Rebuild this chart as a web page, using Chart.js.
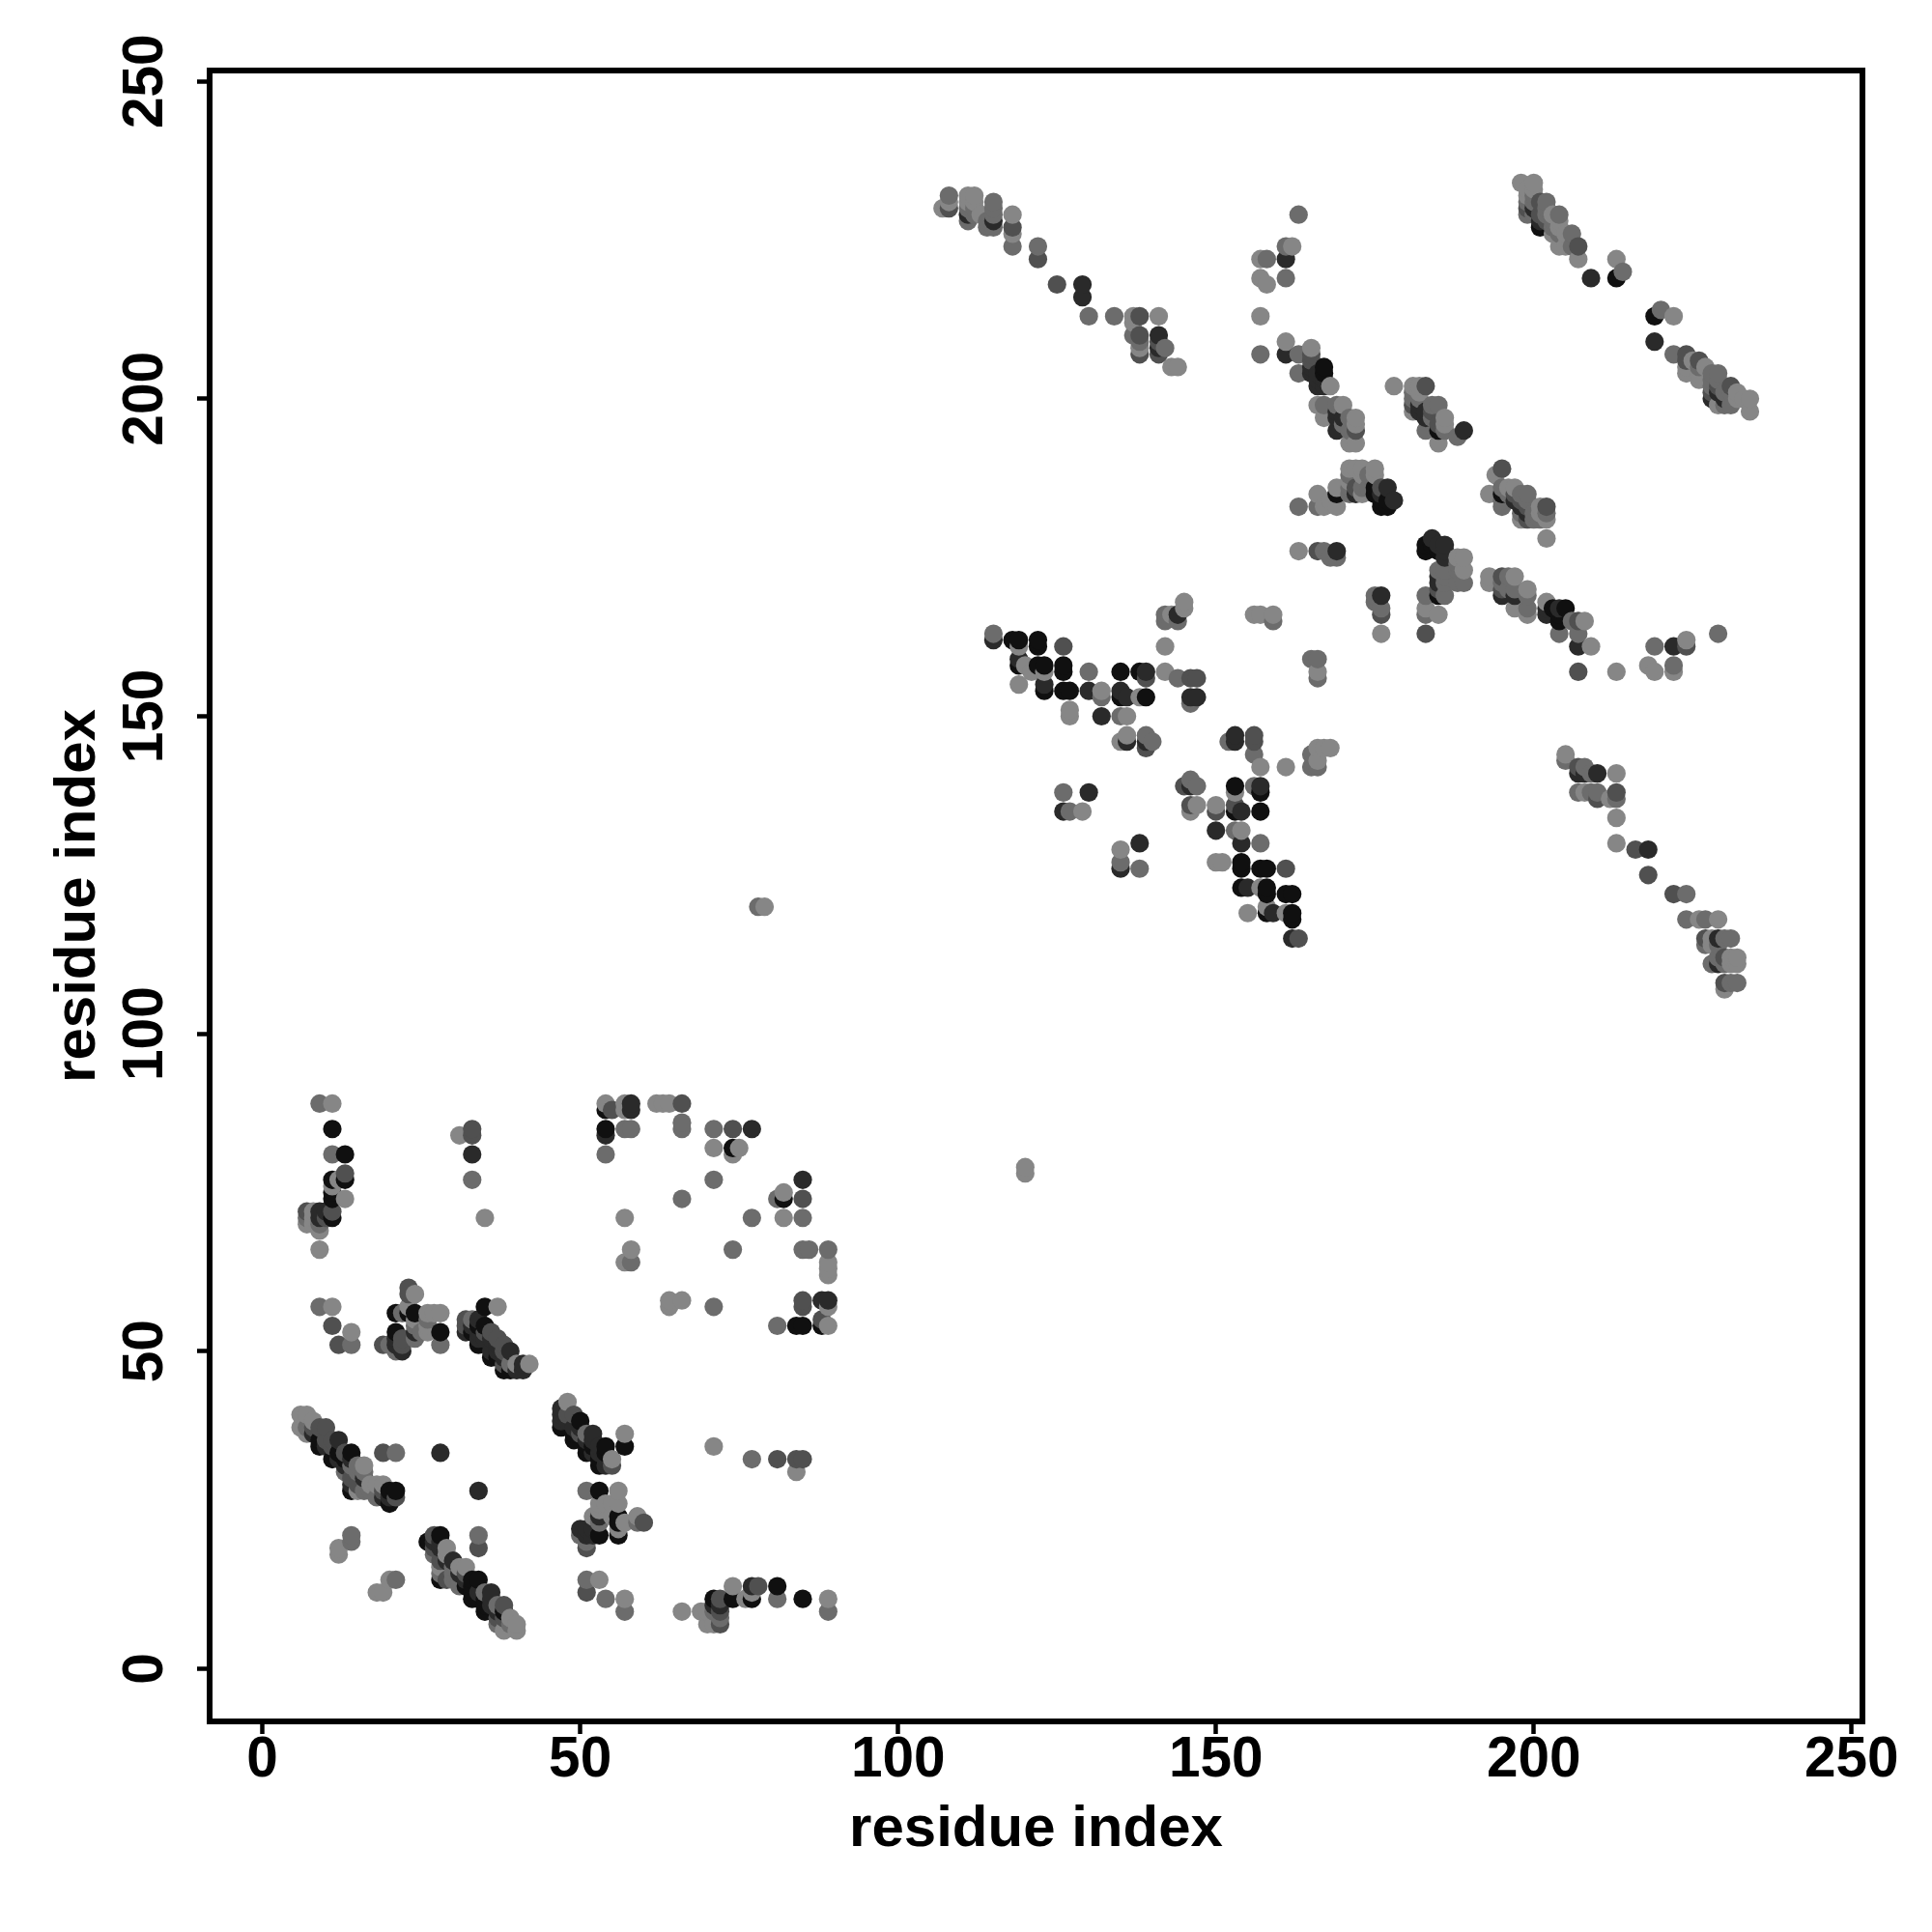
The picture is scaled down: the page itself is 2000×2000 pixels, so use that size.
<!DOCTYPE html>
<html>
<head>
<meta charset="utf-8">
<title>residue contact map</title>
<script src="https://cdn.jsdelivr.net/npm/chart.js@4"></script>
<style>
    body { margin: 0; background: #fff; }
    canvas { display: block; }
</style>
</head>
<body>
<canvas id="myChart" width="2000" height="2000"></canvas>
<script>
// every contact is [residue i, residue j, level], level 0 is the darkest
const tickValues = [0, 50, 100, 150, 200, 250]
const levelGreys = [16, 42, 80, 108, 134]

const lowerDiagonalA = [[6,40,4],[7,40,4],[6,38,4],[7,37,4],[7,38,3],[8,39,4],[8,38,2],[9,38,2],[10,38,2],[8,37,1],[9,36,0],[9,35,0],[10,36,2],[11,36,2],[12,36,1],[10,35,1],[11,35,2],[11,33,0],[12,34,0],[13,34,2],[14,34,0],[12,33,1],[13,33,0],[13,32,1],[14,33,1],[14,32,3],[13,31,3],[15,31,3],[15,32,3],[16,32,4],[16,31,3],[14,28,0],[14,29,1],[14,30,2],[15,28,4],[15,29,2],[16,28,3],[16,30,1],[17,28,3],[17,29,4],[18,29,4],[19,29,4],[18,27,3],[19,28,2],[19,27,1],[20,28,0],[20,27,1],[20,26,0],[21,28,0],[21,27,2]]
const lowerSparseA = [[19,34,2],[21,34,3],[28,34,1],[34,28,1],[14,21,3],[14,20,3],[12,19,4],[12,18,4],[21,14,3],[20,14,4],[18,12,4],[19,12,4],[34,21,3],[34,19,2]]
const lowerDiagonalB = [[27,21,2],[28,21,0],[26,20,0],[27,20,1],[27,19,2],[28,20,1],[29,19,4],[27,18,3],[28,19,1],[29,18,4],[28,17,2],[29,17,1],[30,17,1],[28,16,4],[30,16,3],[31,16,4],[32,16,4],[28,15,3],[28,14,0],[29,14,2],[30,15,3],[30,14,3],[31,15,1],[31,14,3],[32,15,2],[31,13,3],[32,14,1],[33,14,0],[34,14,0],[32,13,0],[33,13,0],[33,12,0],[33,11,0],[34,12,1],[34,11,0],[35,12,3],[36,12,1],[35,11,0],[35,10,0],[35,9,0],[36,10,1],[36,11,1],[37,9,1],[37,10,3],[38,10,2],[37,8,2],[38,9,0],[37,7,3],[38,8,2],[38,6,4],[39,8,4],[39,7,3],[40,7,4],[40,6,4]]
const lowerDiagonalC = [[48,42,4],[47,41,1],[47,40,1],[47,39,1],[47,38,0],[48,40,2],[48,39,1],[49,40,2],[49,38,1],[50,39,0],[50,38,1],[49,37,0],[49,36,0],[50,37,2],[51,37,3],[51,36,1],[51,35,0],[51,34,0],[52,37,1],[52,36,1],[52,35,0],[53,34,1],[53,35,1],[52,34,1],[54,35,0],[54,34,0],[53,32,0],[53,33,0],[54,32,1],[54,33,1],[55,32,2],[55,33,4],[57,37,4],[57,35,0]]
const lowerPatch = [[51,28,3],[53,28,0],[56,28,4],[56,26,4],[53,26,4],[54,26,4],[55,26,4],[52,24,4],[53,25,4],[53,24,1],[53,23,3],[55,24,4],[56,24,0],[56,23,0],[57,23,4],[56,22,4],[59,24,4],[60,23,2],[59,23,3],[50,22,1],[51,22,1],[52,22,1],[50,21,3],[51,21,1],[53,21,0],[52,21,1],[56,21,0],[51,20,3],[51,19,2],[51,14,3],[53,14,4],[51,12,2],[54,11,3],[57,11,4],[57,9,3]]
const lowerRight = [[71,35,4],[77,33,3],[81,33,2],[84,33,2],[85,33,2],[84,31,4],[66,9,4],[69,9,4],[70,7,4],[71,7,4],[72,7,2],[72,8,3],[71,9,3],[70,9,4],[71,11,0],[72,11,2],[72,10,1],[71,10,1],[72,9,2],[74,11,0],[74,13,4],[76,11,4],[77,12,4],[77,11,0],[77,13,1],[78,13,2],[81,13,0],[81,11,3],[85,11,0],[89,11,4],[89,9,3]]
const upperLeftColumn = [[9,89,3],[11,89,4],[11,85,0],[11,81,3],[13,81,0],[11,77,0],[12,77,4],[13,77,0],[13,78,2],[11,76,4],[13,74,4],[11,74,0],[11,75,0],[7,72,2],[8,72,4],[9,72,1],[10,72,1],[11,72,2],[7,71,3],[8,71,4],[9,71,1],[10,71,2],[11,71,0],[7,70,4],[8,70,4],[9,70,3],[9,69,4],[9,66,4],[9,57,3],[11,57,4],[11,54,2],[14,53,4],[14,51,3],[12,51,2],[31,84,4],[33,85,2],[33,84,2],[33,81,1],[33,77,3],[35,71,4]]
const middlePatch = [[23,60,2],[23,59,2],[24,59,4],[23,57,4],[21,56,0],[22,56,3],[23,56,0],[24,56,0],[26,56,4],[27,56,4],[28,56,4],[24,55,4],[24,54,3],[26,55,3],[21,53,0],[22,52,2],[24,53,1],[24,52,3],[25,53,3],[26,53,4],[26,54,4],[28,53,0],[28,51,3],[19,51,2],[20,51,3],[21,52,1],[21,51,1],[22,51,2],[21,50,3],[22,50,1]]
const middleDiagonal = [[35,57,0],[37,57,4],[32,55,2],[33,55,3],[32,54,2],[32,53,1],[33,54,1],[34,55,1],[35,54,0],[34,54,0],[33,53,0],[34,53,1],[34,52,1],[34,51,0],[35,53,2],[36,53,2],[35,52,1],[36,52,1],[37,52,2],[36,50,1],[36,49,0],[37,51,1],[37,50,1],[38,51,2],[37,49,0],[38,50,2],[38,49,1],[39,50,1],[38,48,2],[38,47,0],[39,48,3],[39,47,0],[40,48,4],[40,47,1],[41,48,1],[41,47,1],[42,48,4]]
const upperSparse = [[54,89,4],[54,88,0],[55,88,2],[57,89,4],[58,89,1],[58,88,1],[57,88,4],[54,85,0],[54,84,1],[57,85,3],[58,85,3],[54,81,3],[62,89,4],[63,89,4],[64,89,4],[66,89,2],[66,86,3],[66,85,3],[71,85,3],[74,85,2],[77,85,1],[71,82,4],[74,82,0],[75,82,4],[74,81,4],[71,77,3],[85,77,1],[66,74,3],[81,74,3],[82,75,4],[82,74,0],[85,74,2],[57,71,4],[77,71,3],[82,71,4],[85,71,3],[58,66,4],[74,66,3],[85,66,3],[86,66,3],[89,66,3],[57,64,4],[58,64,3],[89,64,4],[89,63,4],[89,62,4],[64,58,4],[64,57,4],[66,58,4],[71,57,3],[85,58,2],[85,57,2],[88,58,1],[89,58,1],[89,57,4],[88,55,2],[81,54,3],[84,54,0],[85,54,0],[88,54,0],[89,54,4]]
const isolated = [[78,120,3],[79,120,4],[120,79,4],[120,78,4]]
const centreBand = [[115,163,3],[115,162,1],[118,162,0],[119,162,0],[119,161,4],[122,162,0],[122,161,0],[126,161,2],[119,159,1],[119,158,0],[120,158,4],[122,158,0],[123,158,0],[123,157,4],[121,157,4],[126,158,0],[126,157,0],[130,157,3],[135,157,0],[138,157,0],[139,157,1],[139,156,2],[142,157,4],[144,156,3],[146,156,2],[147,156,2],[119,155,4],[123,155,1],[123,154,0],[126,154,0],[127,154,0],[130,154,1],[132,154,4],[132,153,3],[135,154,1],[135,153,0],[136,153,1],[138,153,4],[139,153,0],[146,153,1],[147,153,1],[146,152,3],[127,151,4],[127,150,4],[132,150,1],[135,150,3],[136,150,4],[135,146,4],[136,147,4],[136,146,1],[139,147,3],[139,146,1],[139,145,2],[140,146,3]]
const centreCross = [[153,147,1],[152,146,3],[153,146,1],[156,147,2],[156,146,2],[156,144,3],[157,142,4],[126,138,3],[130,138,1],[126,135,1],[127,135,3],[129,135,4],[145,139,2],[146,140,3],[146,139,1],[147,139,3],[146,136,2],[146,135,4],[147,136,4],[150,136,4],[150,135,2],[153,139,0],[153,138,4],[156,139,3],[157,139,1],[157,138,0],[153,136,2],[153,135,0],[154,135,1],[157,135,0],[150,132,1],[153,132,3],[154,132,4],[154,130,1],[157,130,3],[135,129,4],[138,130,1],[135,127,3],[135,126,1],[138,126,3],[150,127,4],[151,127,4],[154,127,0],[154,126,0],[157,126,0],[158,126,0],[161,126,2],[154,123,0],[155,123,1],[157,123,4],[158,123,0],[158,122,0],[161,122,0],[162,122,0],[155,119,4],[158,120,4],[158,119,0],[159,119,1],[161,119,4],[162,119,0],[162,118,0],[162,115,1],[163,115,2]]
const centreTop = [[142,166,3],[142,165,3],[143,166,4],[144,166,1],[144,165,3],[145,168,4],[145,167,4],[156,166,4],[157,166,4],[159,166,4],[159,165,3],[142,161,4],[166,145,4],[167,145,4],[168,145,4],[165,144,3],[166,143,4],[165,142,3],[166,142,3],[161,142,4]]
const topChain = [[107,230,4],[108,232,3],[108,231,4],[108,230,2],[111,232,4],[112,232,4],[111,231,4],[112,231,4],[111,230,3],[112,230,3],[111,229,1],[111,228,3],[112,229,3],[113,229,4],[114,228,3],[114,227,3],[115,231,3],[115,230,3],[115,229,3],[115,228,1],[115,227,3],[118,229,4],[118,227,2],[118,226,4],[118,224,3],[122,224,3],[122,222,2],[125,218,2],[129,218,1],[129,216,1],[130,213,3],[134,213,3],[137,213,4],[138,213,2],[141,213,4],[137,212,4],[137,210,3],[138,210,2],[141,210,1],[138,209,3],[138,208,4],[138,207,2],[141,209,2],[141,208,1],[141,207,2],[142,208,3],[143,205,4],[144,205,4]]
const topMiddle = [[163,229,3],[161,224,3],[162,224,4],[161,222,1],[157,222,4],[158,222,3],[157,219,4],[158,218,4],[161,219,3],[157,213,4],[157,207,3],[161,209,4],[161,207,1],[163,207,3],[165,208,4],[165,207,2],[165,206,2],[163,204,3],[167,205,0],[167,204,0],[165,204,1],[165,205,1],[166,204,1],[166,203,1],[166,202,1],[167,203,1],[167,202,1],[168,202,4],[166,199,4],[167,199,3],[169,199,3],[170,199,4],[167,197,4],[169,198,1],[169,197,1],[170,197,1],[172,197,4],[171,197,3],[172,196,4],[172,195,2],[170,196,3],[169,195,1],[171,195,3],[171,193,4],[172,193,4]]
const topRightOfMiddle = [[178,202,4],[181,202,4],[182,202,4],[183,202,2],[181,201,3],[181,200,3],[182,201,4],[182,200,3],[181,199,2],[182,199,1],[184,199,3],[185,199,3],[181,198,4],[182,198,1],[183,198,1],[183,197,1],[184,198,2],[186,197,4],[184,197,3],[185,196,2],[183,195,3],[185,195,0],[186,195,3],[185,193,4],[188,194,3],[189,195,1],[186,196,4]]
const band185 = [[163,183,3],[166,185,4],[166,183,3],[167,183,4],[169,183,4],[169,186,4],[169,185,0],[168,184,4],[171,189,4],[171,188,3],[172,189,4],[173,189,4],[175,189,4],[173,188,4],[174,188,3],[171,187,4],[171,186,3],[171,185,3],[172,186,2],[172,185,1],[173,185,4],[173,186,3],[174,186,3],[175,188,4],[175,186,0],[176,186,2],[177,186,1],[175,185,0],[176,185,1],[176,184,0],[178,184,1],[176,183,0],[177,183,0],[177,184,0]]
const band175 = [[163,176,4],[166,176,2],[167,176,3],[168,175,3],[169,175,3],[169,176,1],[175,169,3],[176,169,1],[175,168,3],[176,167,3],[176,166,2],[176,163,4],[183,169,3],[183,167,4],[183,166,3],[185,166,4],[183,163,2],[183,177,0],[183,176,0],[184,178,1],[184,177,0],[185,177,1],[185,176,0],[186,177,1],[186,176,1],[186,175,1],[188,175,4],[189,175,4],[188,174,3],[189,173,4],[185,173,3],[186,173,3],[185,172,1],[185,171,1],[186,172,3],[188,173,3],[188,171,3],[189,171,3],[186,171,3],[185,170,2],[185,169,0],[186,169,3]]
const band170 = [[193,172,4],[193,171,4],[195,172,2],[195,171,3],[195,170,2],[195,169,1],[196,172,3],[197,172,4],[196,170,3],[197,170,3],[197,169,1],[197,167,4],[199,170,4],[199,169,3],[199,167,3],[199,166,4],[202,168,4],[202,167,1],[202,166,1],[203,167,0],[204,167,1],[205,167,0],[204,166,0],[204,165,0],[204,163,3],[206,165,3],[207,165,2],[208,165,4],[207,163,3],[207,161,1],[209,161,4],[207,157,2]]
const band185Right = [[193,185,4],[194,188,4],[195,189,2],[195,186,3],[195,185,0],[195,184,3],[195,183,3],[196,185,3],[196,186,4],[197,186,4],[197,185,2],[197,184,1],[198,185,3],[198,184,2],[198,183,1],[199,185,3],[199,184,3],[199,183,2],[199,182,1],[198,182,3],[198,181,4],[199,181,2],[200,182,3],[200,181,3],[201,183,4],[201,182,4],[201,181,3],[202,183,2],[202,182,3],[202,181,4],[202,178,4]]
const band160 = [[166,159,3],[165,159,3],[166,157,4],[166,156,3],[213,157,4],[218,158,4],[219,157,4],[222,158,3],[222,157,4],[219,161,3],[222,161,1],[224,162,4],[224,161,2],[229,163,3]]
const topRightDiagonal = [[198,234,4],[200,234,4],[199,233,4],[200,233,4],[199,232,4],[199,231,3],[199,230,2],[199,229,3],[200,232,3],[200,231,3],[200,230,1],[200,229,3],[201,231,2],[202,231,3],[201,229,2],[201,228,1],[201,227,0],[202,230,3],[202,229,3],[202,228,2],[203,229,4],[204,229,3],[203,228,3],[204,228,4],[203,227,3],[203,226,4],[204,227,4],[204,226,3],[205,226,4],[206,226,3],[204,224,4],[205,224,4],[206,224,3],[207,224,2],[207,222,4],[209,219,1],[213,222,4],[214,220,3],[213,219,0],[219,213,0],[220,214,3],[222,213,4],[219,209,1],[222,207,3],[224,207,2],[224,206,2],[224,205,4],[224,204,4],[225,206,4],[226,206,2],[226,205,3],[226,204,4],[226,203,4],[227,205,4],[228,204,3],[229,204,3],[228,203,3],[228,202,3],[228,201,2],[228,200,1],[229,203,3],[229,202,2],[229,201,1],[229,199,4],[230,201,3],[230,200,1],[230,199,3],[231,202,2],[231,201,3],[231,199,3],[232,201,4],[232,200,4],[233,200,4],[234,200,4],[234,198,4]]
const rightDiagonal = [[205,144,4],[205,143,3],[207,142,2],[208,142,3],[207,141,1],[208,141,1],[209,141,3],[210,141,1],[213,141,4],[207,138,3],[208,138,4],[209,138,3],[210,138,3],[210,137,2],[212,137,4],[213,138,2],[213,137,3],[213,134,4],[213,130,4],[216,129,2],[218,129,1],[218,125,2],[222,122,2],[224,122,3],[224,118,3],[226,118,4],[227,118,3],[229,118,4],[227,115,2],[227,114,3],[228,115,4],[228,114,4],[229,115,1],[230,115,3],[231,115,3],[229,114,3],[228,111,3],[229,112,3],[229,111,1],[230,112,2],[230,111,3],[231,112,4],[231,111,4],[232,112,4],[232,111,4],[230,108,2],[230,107,4],[231,108,3],[232,108,3]]

const contacts = [lowerDiagonalA, lowerSparseA, lowerDiagonalB, lowerDiagonalC, lowerPatch, lowerRight, upperLeftColumn, middlePatch, middleDiagonal, upperSparse, isolated, centreBand, centreCross, centreTop, topChain, topMiddle, topRightOfMiddle, band185, band175, band170, band185Right, band160, topRightDiagonal, rightDiagonal].flat()
// the original paints column by column, so later points sit on top
contacts.sort((a, b) => a[0] - b[0] || a[1] - b[1])

const tickFont = { family: '"Liberation Sans"', size: 58.5, weight: 'bold' }
const titleFont = { family: '"Liberation Sans"', size: 60, weight: 'bold' }

const axisOptions = (size) => ({
    type: 'linear',
    min: -8.3,
    max: 251.7,
    afterBuildTicks: (scale) => {
        scale.ticks = tickValues.map((value) => ({ value }))
    },
    grid: { drawOnChartArea: false, drawTicks: true, tickLength: 13, tickColor: '#000', tickWidth: 4.5 },
    border: { display: false },
    title: { display: true, text: 'residue index', color: '#000', font: titleFont },
    afterFit: (scale) => {
        if (scale.isHorizontal()) scale.height = size
        else scale.width = size
    }
})

const plotBox = {
    id: 'plotBox',
    afterDraw: (chart) => {
        const { ctx, chartArea } = chart
        ctx.save()
        ctx.strokeStyle = '#000'
        ctx.lineWidth = 6
        ctx.strokeRect(chartArea.left, chartArea.top, chartArea.right - chartArea.left, chartArea.bottom - chartArea.top)
        ctx.restore()
    }
}

const xAxis = axisOptions(218)
xAxis.ticks = { color: '#000', font: tickFont, padding: -7, autoSkip: false, maxRotation: 0, minRotation: 0 }
xAxis.title.padding = { top: 0, bottom: 70 }

const yAxis = axisOptions(217)
yAxis.ticks = { color: '#000', font: tickFont, padding: 3, autoSkip: false, minRotation: 90, maxRotation: 90, crossAlign: 'center' }
yAxis.title.padding = { top: 45, bottom: 0 }

new Chart(document.getElementById('myChart').getContext('2d'), {
    type: 'scatter',
    data: {
        datasets: [{
            data: contacts.map((c) => ({ x: c[0], y: c[1] })),
            pointRadius: 9.6,
            pointBorderWidth: 0,
            pointBackgroundColor: contacts.map((c) => `rgb(${levelGreys[c[2]]},${levelGreys[c[2]]},${levelGreys[c[2]]})`)
        }]
    },
    options: {
        responsive: false,
        animation: false,
        layout: { padding: { top: 73, right: 72, left: 0, bottom: 0 } },
        plugins: { legend: { display: false }, tooltip: { enabled: false } },
        scales: { x: xAxis, y: yAxis }
    },
    plugins: [plotBox]
})
</script>
</body>
</html>
